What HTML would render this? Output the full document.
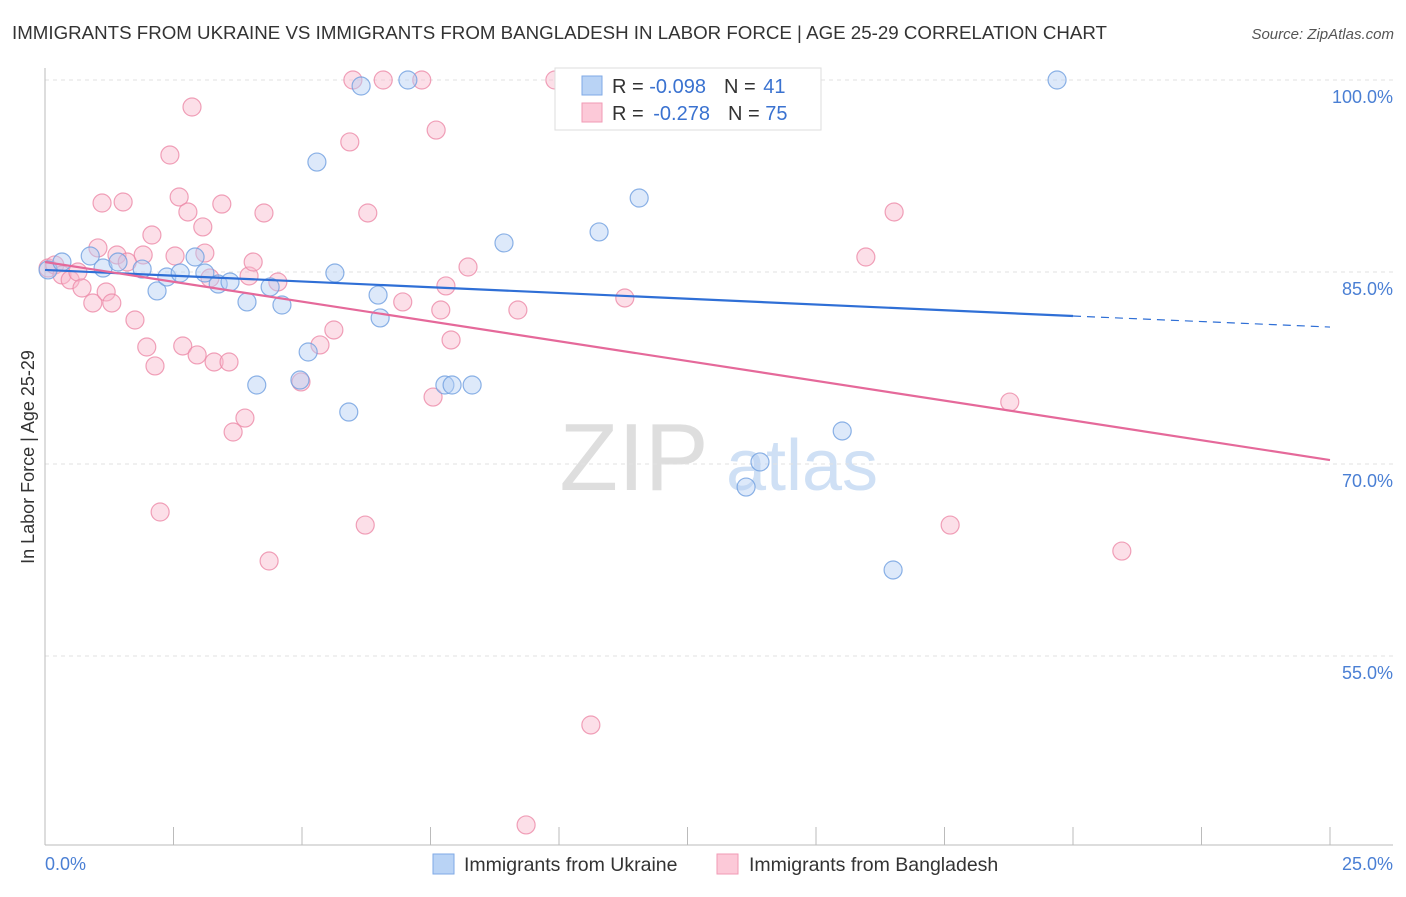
<!DOCTYPE html>
<html><head><meta charset="utf-8"><style>
body{margin:0;background:#fff;font-family:"Liberation Sans",sans-serif;}
svg text{font-family:"Liberation Sans",sans-serif;}
</style></head><body>
<svg id="chart" width="1406" height="892" xmlns="http://www.w3.org/2000/svg">
<text x="12" y="39" font-size="18" fill="#333" textLength="1095" lengthAdjust="spacingAndGlyphs">IMMIGRANTS FROM UKRAINE VS IMMIGRANTS FROM BANGLADESH IN LABOR FORCE | AGE 25-29 CORRELATION CHART</text>
<text x="1394" y="39" font-size="15" fill="#555" text-anchor="end" font-style="italic">Source: ZipAtlas.com</text>
<g>
<text x="634" y="490" font-size="96" fill="#dedede" text-anchor="middle" font-family="Liberation Serif">ZIP</text>
<text x="802" y="490" font-size="72" fill="#cfe0f5" text-anchor="middle">atlas</text>
</g>
<g id="grid"></g>
<g id="axes"></g>
<g id="points"></g>
<g id="trends"></g>
<text transform="translate(34,457) rotate(-90)" font-size="18" fill="#333" text-anchor="middle">In Labor Force | Age 25-29</text>
<text x="45" y="870" font-size="18" fill="#4a7fd4">0.0%</text>
<text x="1393" y="870" font-size="18" fill="#4a7fd4" text-anchor="end">25.0%</text>
<g>
<rect x="555" y="68" width="266" height="62" fill="#fff" stroke="#ddd"/>
<rect x="582" y="76" width="20" height="19" fill="#b9d3f5" stroke="#7fa9e6"/>
<rect x="582" y="103" width="20" height="19" fill="#fcc9d8" stroke="#f19ab5"/>
<text x="612" y="93" font-size="20" fill="#333">R = <tspan fill="#3a72d0">-0.098</tspan><tspan dx="18">N = </tspan><tspan fill="#3a72d0" dx="2">41</tspan></text>
<text x="612" y="120" font-size="20" fill="#333">R = <tspan fill="#3a72d0" dx="4">-0.278</tspan><tspan dx="18">N = </tspan><tspan fill="#3a72d0">75</tspan></text>
</g>
<g>
<rect x="433" y="854" width="21" height="20" fill="#b9d3f5" stroke="#7fa9e6"/>
<text x="464" y="871" font-size="19.5" fill="#333">Immigrants from Ukraine</text>
<rect x="717" y="854" width="21" height="20" fill="#fcc9d8" stroke="#f19ab5"/>
<text x="749" y="871" font-size="19.5" fill="#333">Immigrants from Bangladesh</text>
</g>
</svg>
<script>
const yTicks=[100,85,70,55];
const yTickLabels=["100.0%","85.0%","70.0%","55.0%"];
const xTicks=[0,2.5,5,7.5,10,12.5,15,17.5,20,22.5,25];
const ukraineX=[0.06,0.33,0.88,1.13,1.42,1.89,2.18,2.37,2.63,2.92,3.11,3.37,3.60,3.93,4.12,4.38,4.61,4.96,5.12,5.29,5.64,5.91,6.15,6.48,6.52,7.06,7.78,7.92,8.31,8.93,10.21,10.78,11.56,13.64,13.91,14.07,15.51,16.50,19.69];
const ukraineY=[85.16,85.78,86.25,85.31,85.78,85.23,83.52,84.61,84.92,86.17,84.92,84.06,84.22,82.66,76.17,83.83,82.42,76.56,78.75,93.59,84.92,74.06,99.53,83.20,81.41,100,76.17,76.17,76.17,87.27,100,88.13,90.78,68.20,70.16,100,72.58,61.72,100];
const bangX=[0.06,0.19,0.33,0.49,0.64,0.72,0.93,1.03,1.11,1.19,1.30,1.40,1.52,1.60,1.75,1.91,1.98,2.08,2.14,2.24,2.43,2.53,2.61,2.68,2.78,2.86,2.96,3.07,3.11,3.21,3.29,3.44,3.58,3.66,3.89,3.97,4.05,4.26,4.36,4.53,4.98,5.35,5.62,5.93,5.99,6.23,6.28,6.58,6.96,7.33,7.55,7.61,7.70,7.80,7.90,8.23,9.20,9.92,10.62,11.28,9.36,15.97,16.52,17.61,18.77,20.95];
const bangY=[85.31,85.55,84.77,84.38,85.0,83.75,82.58,86.88,90.39,83.44,82.58,86.33,90.47,85.78,81.25,86.33,79.14,87.89,77.66,66.25,94.14,86.25,90.86,79.22,89.69,97.89,78.52,88.52,86.48,84.53,77.97,90.31,77.97,72.5,73.59,84.69,85.78,89.61,62.42,84.22,76.41,79.30,80.47,95.16,100,65.23,89.61,100,82.66,100,75.23,96.09,82.03,83.91,79.69,85.39,82.03,100,49.61,82.97,41.8,86.17,89.69,65.23,74.84,63.2];
const ukraineTrend=[[0,85.16],[20,81.56],[25,80.7]];
const bangTrend=[[0,85.78],[25,70.31]];
const X=v=>45+v*51.4, Y=v=>80+(100-v)*12.8;
const NS="http://www.w3.org/2000/svg";
function mk(parent,tag,attrs){const e=document.createElementNS(NS,tag);for(const k in attrs)e.setAttribute(k,attrs[k]);document.getElementById(parent).appendChild(e);return e;}
yTicks.forEach((t,i)=>{
 const g=mk('grid','line',{x1:45,x2:1393,y1:Y(t),y2:Y(t),stroke:'#e2e2e2','stroke-dasharray':'4,4'});
 
 
 const l=mk('grid','text',{x:1393,y:Y(t)+23,'font-size':18,fill:'#4a7fd4','text-anchor':'end'});
 l.textContent=yTickLabels[i];
 
 
});
const ya=mk('axes','line',{x1:45,x2:45,y1:68,y2:845,stroke:'#bbb'});


const xa=mk('axes','line',{x1:45,x2:1393,y1:845,y2:845,stroke:'#bbb'});


xTicks.forEach(t=>{const e=mk('axes','line',{x1:X(t),x2:X(t),y1:827,y2:845,stroke:'#bbb'});
 
 });
function pts(xs,ys,fill,stroke,name){xs.forEach((x,i)=>{const c=mk('points','circle',{cx:X(x),cy:Y(ys[i]),r:9,fill:fill,'fill-opacity':0.45,stroke:stroke,'stroke-opacity':0.8,'stroke-width':1.2});
 
 });}
pts(bangX,bangY,'#f9b8cb','#ec8aa8','bangladesh-point');
pts(ukraineX,ukraineY,'#b3cff3','#6f9fe0','ukraine-point');
const u1=mk('trends','line',{x1:X(ukraineTrend[0][0]),y1:Y(ukraineTrend[0][1]),x2:X(ukraineTrend[1][0]),y2:Y(ukraineTrend[1][1]),stroke:'#2f6fd6','stroke-width':2.2});


const u2=mk('trends','line',{x1:X(ukraineTrend[1][0]),y1:Y(ukraineTrend[1][1]),x2:X(ukraineTrend[2][0]),y2:Y(ukraineTrend[2][1]),stroke:'#2f6fd6','stroke-width':1.2,'stroke-dasharray':'8,6'});


const b1=mk('trends','line',{x1:X(bangTrend[0][0]),y1:Y(bangTrend[0][1]),x2:X(bangTrend[1][0]),y2:Y(bangTrend[1][1]),stroke:'#e5699a','stroke-width':2.2});


</script>
</body></html>
